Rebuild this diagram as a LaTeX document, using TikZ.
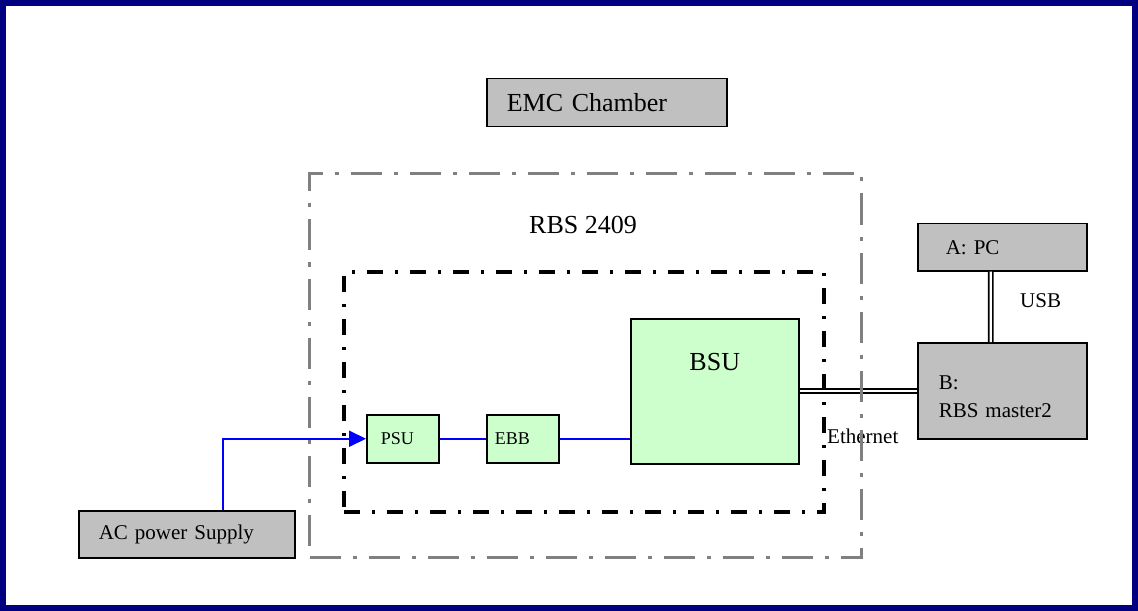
\documentclass[tikz,border=0pt]{standalone}
\usepackage{fontspec}
\setmainfont{Liberation Serif}
\usetikzlibrary{arrows.meta}
\definecolor{navy}{HTML}{000080}
\definecolor{boxgray}{HTML}{C0C0C0}
\definecolor{lgreen}{HTML}{CCFFCC}
\definecolor{dgray}{HTML}{808080}
\begin{document}
\begin{tikzpicture}[x=1bp,y=-1bp,
  basebox/.style={draw=black, line width=1.5bp, anchor=north west, inner ysep=0pt, align=left},
  graybox/.style={basebox, fill=boxgray},
  greenbox/.style={basebox, fill=lgreen},
  bigfont/.style={font=\fontsize{26bp}{30bp}\selectfont},
  smallfont/.style={font=\fontsize{21bp}{28bp}\selectfont},
  tinyfont/.style={font=\fontsize{18bp}{22bp}\selectfont},
  graydash/.style={draw=dgray, line width=3bp, dash pattern=on 31bp off 12bp on 4bp off 12bp, anchor=north west, inner sep=0pt},
  blackdash/.style={draw=black, line width=4bp, dash pattern=on 16bp off 12bp on 3bp off 12bp, anchor=north west, inner sep=0pt},
  bluewire/.style={draw=blue, line width=2bp},
  dblwire/.style={draw=black, double=white, line width=1.6bp, double distance=2.4bp}
]
\useasboundingbox (0,0) rectangle (1138,611);
\draw[navy, line width=6bp] (3,3) rectangle (1135,608);

% boxes
\node[graybox, bigfont, minimum height=48bp, text width=200bp, inner xsep=20bp] (emc) at (486,78) {EMC Chamber};
\node[graybox, smallfont, minimum height=47bp, text width=176bp, inner xsep=20bp] (ac) at (78,510) {AC power Supply};
\node[graybox, smallfont, minimum height=47bp, text width=113bp, inner xsep=28bp] (pc) at (917,223) {A: PC};
\node[graybox, smallfont, minimum height=96bp, text width=127bp, inner xsep=21bp, text depth=17bp] (b) at (917,342) {B:\\RBS master2};
\node[greenbox, tinyfont, minimum height=48bp, text width=44bp, inner xsep=14bp] (psu) at (366,414) {PSU};
\node[greenbox, tinyfont, minimum height=48bp, text width=56bp, inner xsep=8bp] (ebb) at (486,414) {EBB};
\node[greenbox, bigfont, minimum height=145bp, text width=168bp, inner xsep=0pt, align=center, text depth=58bp] (bsu) at (630,318) {BSU};

% labels
\node[bigfont, anchor=base west, inner sep=0pt] (rbslabel) at (529,234) {RBS 2409};
\node[smallfont, anchor=base west, inner sep=0pt] (ethlabel) at (827,443) {Ethernet};
\node[smallfont, anchor=base west, inner sep=0pt] (usblabel) at (1020,308) {USB};

% connectors
\draw[bluewire, -{Triangle[length=17bp,width=16bp]}] ([xshift=36bp]ac.north) |- (psu.west);
\draw[bluewire] (psu.east) -- (ebb.west);
\draw[bluewire] (ebb.east) -- (ebb.east -| bsu.west);
\draw[dblwire] (bsu.east) -- (bsu.east -| b.west);
\draw[dblwire] ([xshift=-11.5bp]pc.south) -- ([xshift=-11.5bp]b.north);

% containers (drawn over the wires, as in the reference)
\node[graydash, minimum width=552bp, minimum height=384bp] (rbs) at (308,172) {};
\node[blackdash, minimum width=480bp, minimum height=240bp] (inner) at (342,270) {};
\end{tikzpicture}
\end{document}
